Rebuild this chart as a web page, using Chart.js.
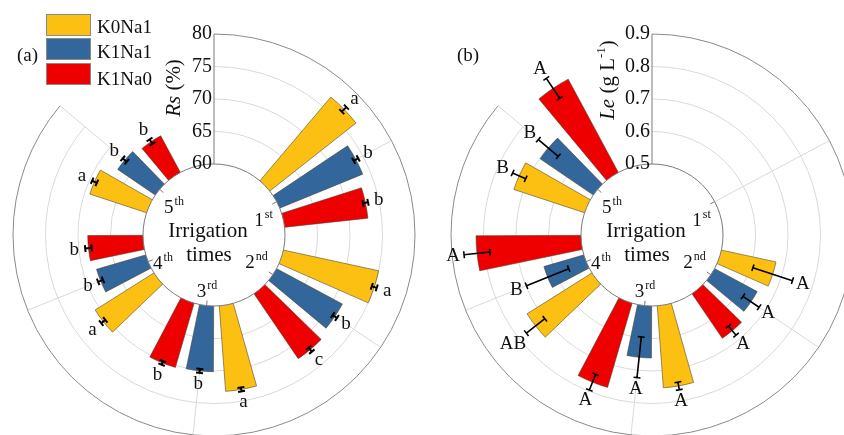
<!DOCTYPE html>
<html>
<head>
<meta charset="utf-8">
<script src="https://cdn.jsdelivr.net/npm/chart.js@4.4.1/dist/chart.umd.min.js"></script>
<style>
  html, body { margin: 0; padding: 0; width: 844px; height: 435px; overflow: hidden; background: #fff; }
  canvas { position: absolute; left: 0; top: 0; }
  .txt { position: absolute; font-family: 'Liberation Serif', 'Times New Roman', serif; font-size: 19px; line-height: 19px; color: #111; white-space: nowrap; }
  .sw { position: absolute; left: 46px; width: 43px; height: 20px; border: 1px solid #8a8a8a; }
</style>
</head>
<body>
<canvas id="panel_a" width="880" height="440"></canvas>
<canvas id="panel_b" width="880" height="440"></canvas>

<div class="sw" style="top:14px;background:#FCC013"></div>
<div class="sw" style="top:38px;background:#33669A"></div>
<div class="sw" style="top:63px;background:#EE0000"></div>
<div class="txt" style="left:97px;top:17px">K0Na1</div>
<div class="txt" style="left:97px;top:42px">K1Na1</div>
<div class="txt" style="left:97px;top:69px">K1Na0</div>
<div class="txt" style="left:17px;top:45px">(a)</div>
<div class="txt" style="left:457px;top:45px">(b)</div>

<script>
'use strict';

const times = ['1st', '2nd', '3rd', '4th', '5th'];
const treatments = ['K0Na1', 'K1Na1', 'K1Na0'];
const colors = ['#FCC013', '#33669A', '#EE0000'];

// (a) Rs (%)
const rs_k0na1 = [76.9, 75.0, 73.2, 70.7, 69.2];
const rs_k1na1 = [73.8, 71.5, 70.1, 67.9, 67.0];
const rs_k1na0 = [72.9, 72.1, 70.3, 68.5, 66.4];
const rs_err_k0na1 = [0.5, 0.4, 0.3, 0.4, 0.4];
const rs_err_k1na1 = [0.4, 0.4, 0.3, 0.4, 0.4];
const rs_err_k1na0 = [0.4, 0.4, 0.3, 0.5, 0.4];
const rs_sig_k0na1 = ['a', 'a', 'a', 'a', 'a'];
const rs_sig_k1na1 = ['b', 'b', 'b', 'b', 'b'];
const rs_sig_k1na0 = ['b', 'c', 'b', 'b', 'b'];
const rs_ticks = [60, 65, 70, 75, 80];

// (b) Le (g L-1), nothing at the 1st irrigation
const le_k0na1 = [null, 0.672, 0.753, 0.736, 0.729];
const le_k1na1 = [null, 0.649, 0.660, 0.628, 0.698];
const le_k1na0 = [null, 0.666, 0.770, 0.823, 0.826];
const le_err_k0na1 = [null, 0.064, 0.012, 0.036, 0.022];
const le_err_k1na1 = [null, 0.030, 0.063, 0.070, 0.040];
const le_err_k1na0 = [null, 0.018, 0.026, 0.040, 0.037];
const le_sig_k0na1 = [null, 'A', 'A', 'AB', 'B'];
const le_sig_k1na1 = [null, 'A', 'A', 'B', 'B'];
const le_sig_k1na0 = [null, 'A', 'A', 'A', 'A'];
const le_ticks = [0.5, 0.6, 0.7, 0.8, 0.9];

// layout (degrees, clockwise from the top)
const GROUP_STEP = 62;
const BAR_STEP = 16;
const BAR_WIDTH = 11.5;
const SWEEP = 310;
const label_pos = [[49.5, -16], [42.5, 26.5], [-7, 55.5], [-51, 27.5], [-40, -29]];
const FONT = '"Liberation Serif", "Times New Roman", serif';
const CLEAR = 'rgba(0,0,0,0)';

const deg = d => d * Math.PI / 180;

// one polar-area slice per bar, with empty slices as gaps
const build_slices = (series, lo) => {
    const out = { data: [], angle: [], fill: [], border: [], bars: [], labels: [] };
    const push = (v, a, c, bar, label) => {
        out.data.push(v); out.angle.push(a); out.fill.push(c);
        out.border.push(bar ? 0.8 : 0); out.bars.push(bar); out.labels.push(label);
    };
    let pos = 0;
    times.forEach((t, g) => {
        series.forEach((s, j) => {
            const start = GROUP_STEP * (g + 1) + (j - 1) * BAR_STEP - BAR_WIDTH / 2;
            push(lo, start - pos, CLEAR, null, '');
            const v = s.values[g];
            if (v === null) push(lo, BAR_WIDTH, CLEAR, null, '');
            else push(v, BAR_WIDTH, colors[j], { v: v, err: s.err[g], sig: s.sig[g] }, t + ' ' + treatments[j]);
            pos = start + BAR_WIDTH;
        });
    });
    push(lo, 360 - pos, CLEAR, null, '');
    return out;
};

const decor = (cfg, bars) => ({
    id: 'decor_' + cfg.id,
    beforeDatasetsDraw(chart) {
        const s = chart.scales.r, ctx = chart.ctx;
        const cx = s.xCenter, cy = s.yCenter;
        const r_in = s.getDistanceFromCenterForValue(cfg.ticks[0]);
        const r_out = s.getDistanceFromCenterForValue(cfg.ticks[cfg.ticks.length - 1]);
        const a0 = -Math.PI / 2, a1 = a0 + deg(SWEEP);
        ctx.save();
        ctx.lineWidth = 1;
        ctx.strokeStyle = '#d9d9d9';
        cfg.ticks.slice(1, -1).forEach(t => {
            ctx.beginPath();
            ctx.arc(cx, cy, s.getDistanceFromCenterForValue(t), a0, a1);
            ctx.stroke();
        });
        times.forEach((t, g) => {
            const a = a0 + deg(GROUP_STEP * (g + 1));
            ctx.beginPath();
            ctx.moveTo(cx + r_in * Math.cos(a), cy + r_in * Math.sin(a));
            ctx.lineTo(cx + r_out * Math.cos(a), cy + r_out * Math.sin(a));
            ctx.stroke();
        });
        ctx.strokeStyle = '#8a8a8a';
        ctx.beginPath();
        ctx.arc(cx, cy, r_out, a0, a1);
        ctx.stroke();
        ctx.restore();
    },
    afterDatasetsDraw(chart) {
        const s = chart.scales.r, ctx = chart.ctx;
        const cx = s.xCenter, cy = s.yCenter;
        const r_in = s.getDistanceFromCenterForValue(cfg.ticks[0]);
        const r_out = s.getDistanceFromCenterForValue(cfg.ticks[cfg.ticks.length - 1]);
        const a0 = -Math.PI / 2;
        const meta = chart.getDatasetMeta(0);
        ctx.save();

        // hole in the middle
        ctx.fillStyle = '#fff';
        ctx.beginPath();
        ctx.arc(cx, cy, r_in, 0, Math.PI * 2);
        ctx.fill();
        ctx.strokeStyle = '#7a7a7a';
        ctx.lineWidth = 1;
        ctx.stroke();
        times.forEach((t, g) => {
            const a = a0 + deg(GROUP_STEP * (g + 1));
            ctx.beginPath();
            ctx.moveTo(cx + (r_in - 5) * Math.cos(a), cy + (r_in - 5) * Math.sin(a));
            ctx.lineTo(cx + r_in * Math.cos(a), cy + r_in * Math.sin(a));
            ctx.stroke();
        });

        // radial axis
        ctx.beginPath();
        ctx.moveTo(cx, cy - r_in);
        ctx.lineTo(cx, cy - r_out);
        ctx.stroke();
        ctx.fillStyle = '#111';
        ctx.font = '20px ' + FONT;
        ctx.textAlign = 'right';
        ctx.textBaseline = 'middle';
        s.ticks.forEach(t => ctx.fillText(cfg.fmt(t.value), cx - 2, cy - s.getDistanceFromCenterForValue(t.value)));

        // error bars and letters
        ctx.strokeStyle = '#000';
        ctx.lineWidth = cfg.err_w;
        ctx.font = '19px ' + FONT;
        ctx.textAlign = 'center';
        meta.data.forEach((arc, i) => {
            const b = bars[i];
            if (!b) return;
            const a = (arc.startAngle + arc.endAngle) / 2;
            const ux = Math.cos(a), uy = Math.sin(a);
            const lo = s.getDistanceFromCenterForValue(b.v - b.err);
            const hi = s.getDistanceFromCenterForValue(b.v + b.err);
            ctx.beginPath();
            ctx.moveTo(cx + lo * ux, cy + lo * uy);
            ctx.lineTo(cx + hi * ux, cy + hi * uy);
            [lo, hi].forEach(r => {
                ctx.moveTo(cx + r * ux - 3.5 * uy, cy + r * uy + 3.5 * ux);
                ctx.lineTo(cx + r * ux + 3.5 * uy, cy + r * uy - 3.5 * ux);
            });
            ctx.stroke();
            const rl = hi + 11 + (b.sig.length - 1) * 6;
            ctx.fillText(b.sig, cx + rl * ux, cy + rl * uy);
        });

        // irrigation labels
        ctx.textAlign = 'left';
        ctx.textBaseline = 'alphabetic';
        times.forEach((t, g) => {
            const num = t.slice(0, 1), suf = t.slice(1);
            ctx.font = '19px ' + FONT;
            const w1 = ctx.measureText(num).width;
            ctx.font = '12px ' + FONT;
            const w2 = ctx.measureText(suf).width;
            const x0 = cx + label_pos[g][0] - (w1 + w2 + 1) / 2;
            const y = cy + label_pos[g][1];
            ctx.font = '19px ' + FONT;
            ctx.fillText(num, x0, y + 6.5);
            ctx.font = '12px ' + FONT;
            ctx.fillText(suf, x0 + w1 + 1, y - 1.5);
        });

        ctx.font = '21px ' + FONT;
        ctx.textAlign = 'center';
        ctx.textBaseline = 'middle';
        ctx.fillText('Irrigation', cx - 6, cy - 4);
        ctx.fillText('times', cx - 5, cy + 20);

        // axis title, rotated
        ctx.translate(cx + cfg.title_dx, cfg.title_y);
        ctx.rotate(-Math.PI / 2);
        const part_font = p => (p.italic ? 'italic ' : '') + (p.sup ? '13px ' : '21px ') + FONT;
        let total = 0;
        cfg.title.forEach(p => { ctx.font = part_font(p); total += ctx.measureText(p.t).width; });
        let x = -total / 2;
        ctx.textAlign = 'left';
        ctx.textBaseline = 'alphabetic';
        cfg.title.forEach(p => {
            ctx.font = part_font(p);
            ctx.fillText(p.t, x, p.sup ? -2 : 7);
            x += ctx.measureText(p.t).width;
        });
        ctx.restore();
    }
});

const make_panel = (canvas_id, cfg) => {
    const slices = build_slices(cfg.series, cfg.min);
    new Chart(document.getElementById(canvas_id), {
        type: 'polarArea',
        data: {
            labels: slices.labels,
            datasets: [{
                data: slices.data,
                angle: slices.angle,
                backgroundColor: slices.fill,
                borderColor: 'rgba(70,62,40,0.7)',
                borderWidth: slices.border,
            }],
        },
        options: {
            responsive: false,
            animation: false,
            events: [],
            layout: { padding: cfg.padding },
            plugins: { legend: { display: false }, tooltip: { enabled: false } },
            scales: {
                r: {
                    min: cfg.min,
                    max: cfg.ticks[cfg.ticks.length - 1],
                    beginAtZero: false,
                    startAngle: 0,
                    afterBuildTicks: scale => { scale.ticks = cfg.ticks.map(v => ({ value: v })); },
                    ticks: { display: false },
                    grid: { display: false },
                    angleLines: { display: false },
                    pointLabels: { display: false },
                },
            },
        },
        plugins: [decor(cfg, slices.bars)],
    });
};

// 60 sits on the hole edge (71 px), 80 on the rim (201 px)
make_panel('panel_a', {
    id: 'a',
    ticks: rs_ticks,
    min: 60 - 71 * 20 / 130,
    fmt: v => String(v),
    padding: { left: 13, top: 34, right: 465, bottom: 4 },
    err_w: 2,
    title: [{ t: 'Rs', italic: true }, { t: ' (%)' }],
    title_dx: -41,
    title_y: 88,
    series: [
        { values: rs_k0na1, err: rs_err_k0na1, sig: rs_sig_k0na1 },
        { values: rs_k1na1, err: rs_err_k1na1, sig: rs_sig_k1na1 },
        { values: rs_k1na0, err: rs_err_k1na0, sig: rs_sig_k1na0 },
    ],
});

make_panel('panel_b', {
    id: 'b',
    ticks: le_ticks,
    min: 0.5 - 71 * 0.4 / 130,
    fmt: v => v.toFixed(1),
    padding: { left: 451, top: 34, right: 27, bottom: 4 },
    err_w: 1.6,
    title: [{ t: 'Le', italic: true }, { t: ' (g L' }, { t: '-1', sup: true }, { t: ')' }],
    title_dx: -45,
    title_y: 80,
    series: [
        { values: le_k0na1, err: le_err_k0na1, sig: le_sig_k0na1 },
        { values: le_k1na1, err: le_err_k1na1, sig: le_sig_k1na1 },
        { values: le_k1na0, err: le_err_k1na0, sig: le_sig_k1na0 },
    ],
});
</script>
</body>
</html>
